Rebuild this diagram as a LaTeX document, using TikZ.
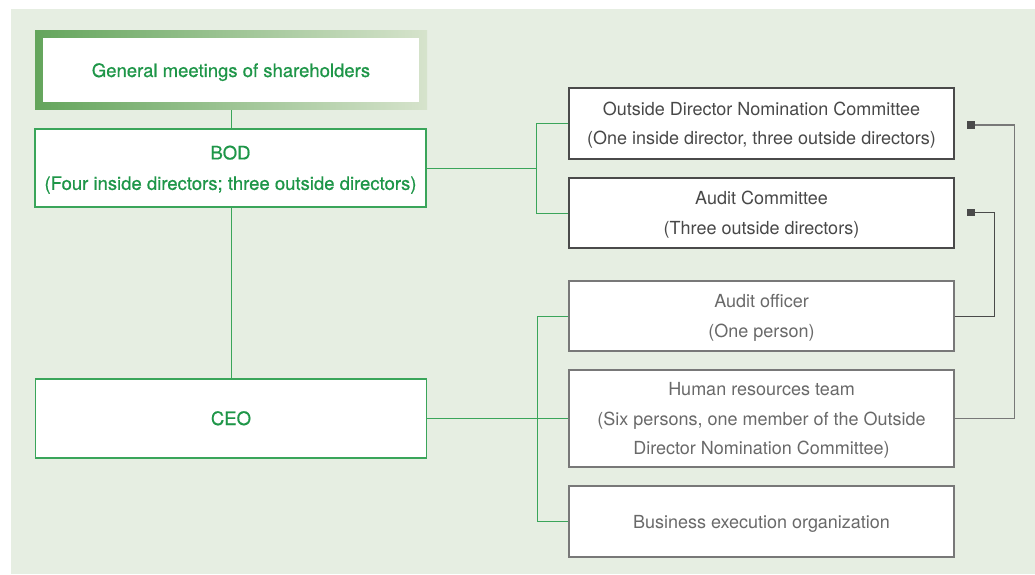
\documentclass[tikz,border=0pt]{standalone}
\usepackage{fontspec}
\setmainfont{TeX Gyre Heros}
\newfontfamily\greenfont{TeX Gyre Heros}[FakeBold=0.6]
\usetikzlibrary{calc}
\definecolor{panelbg}{RGB}{230, 238, 226}
\definecolor{orggreen}{RGB}{30, 150, 72}
\definecolor{linegreen}{RGB}{58, 165, 90}
\definecolor{gmdark}{RGB}{100, 165, 92}
\definecolor{gmlight}{RGB}{214, 227, 204}
\definecolor{darkline}{RGB}{74, 74, 74}
\definecolor{softline}{RGB}{120, 120, 120}
\definecolor{darktext}{RGB}{72, 72, 72}
\definecolor{softtext}{RGB}{105, 105, 105}

\begin{document}
\begin{tikzpicture}[
    x=1pt, y=-1pt,
    every node/.style={align=center, inner sep=0pt, font=\fontsize{18}{29.5}\selectfont},
    txt/.style={text height=13pt, text depth=0pt},
    lines2/.style={text height=42.5pt},
    lines3/.style={text height=72pt},
    greenbox/.style={txt, draw=linegreen, line width=1.2pt, fill=white, text=orggreen,
      font=\greenfont\fontsize{18.5}{30.5}\selectfont, minimum width=391pt, minimum height=78pt},
    topbox/.style={txt, draw=darkline, line width=1.4pt, fill=white, text=darktext, minimum width=385pt, minimum height=70pt},
    lowbox/.style={txt, draw=softline, line width=1.2pt, fill=white, text=softtext, minimum width=385pt, minimum height=70pt},
    greenline/.style={draw=linegreen, line width=1pt},
    grayline/.style={draw=softline, line width=1pt},
    sqmark/.style={fill=darkline, minimum width=8pt, minimum height=7pt}
  ]
    \useasboundingbox (0,0) rectangle (1035,575);
    \fill[panelbg] (11,9) rectangle (1035,574);

    % left column
    \node[left color=gmdark, right color=gmlight, minimum width=392pt, minimum height=79pt] (gmframe) at (231,70.5) {};
    \node[txt, fill=white, text=orggreen, font=\greenfont\fontsize{18.5}{29.5}\selectfont,
      minimum width=376pt, minimum height=64pt] (gm) at (gmframe) {General meetings of shareholders};
    \node[greenbox, text height=43.8pt] (bod) at (230.5,168) {BOD\\(Four inside directors; three outside directors)};
    \node[greenbox, minimum height=79pt, text depth=-1.5pt] (ceo) at (231,418.5) {CEO};

    % right column
    \node[topbox, lines2, minimum height=71pt] (odnc) at (761.5,123.5) {Outside Director Nomination Committee\\(One inside director, three outside directors)};
    \node[topbox, lines2] (audc) at (761.5,213) {Audit Committee\\(Three outside directors)};
    \node[lowbox, lines2] (audo) at (761.5,316) {Audit officer\\(One person)};
    \node[lowbox, lines3, minimum height=97pt] (hr) at (761.5,418.5) {Human resources team\\(Six persons, one member of the Outside\\Director Nomination Committee)};
    \node[lowbox, minimum height=71pt] (beo) at (761.5,521.5) {Business execution organization};

    % connectors
    \draw[greenline] (gmframe.south -| gm) -- (bod.north -| gm);
    \draw[greenline] (bod.south -| gm) -- (ceo.north -| gm);
    \draw[greenline] (bod.east) -- ++(110,0) coordinate (bodjoin);
    \draw[greenline] (odnc.west) -| (bodjoin) |- (audc.west);
    \draw[greenline] (ceo.east) -- (hr.west);
    \coordinate (ceojoin) at ($(ceo.east)+(110,0)$);
    \draw[greenline] (audo.west) -| (ceojoin) |- (beo.west);

    \coordinate (sqodnc) at ($(odnc.east)+(16,1.5)$);
    \coordinate (sqaudc) at ($(audc.east)+(16,-1)$);
    \draw[grayline] (sqodnc) -- ++(44,0) |- (hr.east);
    \draw[grayline, draw=darkline] (sqaudc) -- ++(24,0) |- (audo.east);
    \node[sqmark] at (sqodnc) {};
    \node[sqmark] at (sqaudc) {};
  \end{tikzpicture}
\end{document}
